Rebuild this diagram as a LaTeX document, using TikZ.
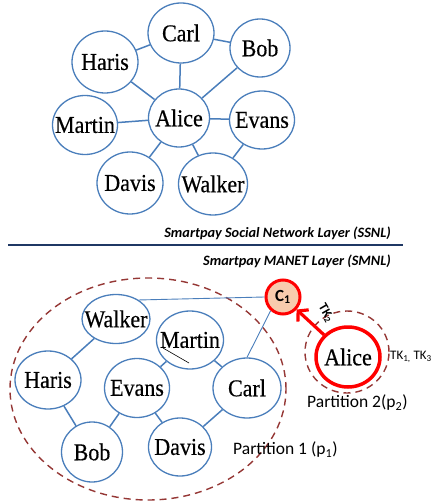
\documentclass[tikz,border=0pt]{standalone}
\usepackage{fontspec}
\setmainfont{Liberation Serif}
\newfontfamily\namefont[FakeBold=0.4]{Liberation Serif}
\newfontfamily\calib{Carlito}
\usetikzlibrary{shapes.geometric,arrows.meta}
\definecolor{nodeblue}{RGB}{74,126,187}
\definecolor{layerline}{RGB}{31,56,100}
\definecolor{partred}{RGB}{149,55,53}
\definecolor{peach}{RGB}{248,203,173}
\begin{document}
\begin{tikzpicture}[x=1pt,y=-1pt,
  person/.style 2 args={ellipse, draw=nodeblue, line width=1.3pt, inner sep=0pt,
    fill=white, minimum width=#1, minimum height=#2},
  who/.style={font=\namefont\fontsize{22}{22}\selectfont, inner sep=0pt, yscale=1.1},
  link/.style={draw=nodeblue, line width=1.5pt},
  thinlink/.style={draw=nodeblue, line width=0.9pt},
  partition/.style 2 args={ellipse, draw=partred, line width=1.4pt,
    dash pattern=on 7pt off 5pt, minimum width=#1, minimum height=#2, inner sep=0pt},
  layertitle/.style={font=\calib\bfseries\itshape\fontsize{14.3}{14.3}\selectfont,
    anchor=base east, inner sep=0pt},
  caption/.style={font=\calib\fontsize{17.5}{17.5}\selectfont, inner sep=0pt},
  token/.style={draw=red, line width=3.2pt},
]
\useasboundingbox (0,0) rectangle (432,502);

% ---------- social network layer ----------
\node[person={66pt}{60pt}, label={[who]center:Carl}]   (carlT)   at (181,33)  {};
\node[person={60pt}{58pt}, label={[who]center:Bob}]    (bobT)    at (260,48)  {};
\node[person={66pt}{62pt}, label={[who]center:Haris}]  (harisT)  at (105,62)  {};
\node[person={65pt}{59pt}, label={[who]center:Martin}] (martinT) at (85,125)  {};
\node[person={61pt}{58pt}, label={[who]center:Alice}]  (aliceT)  at (179,118) {};
\node[person={65pt}{58pt}, label={[who]center:Evans}]  (evansT)  at (262,120) {};
\node[person={66pt}{62pt}, label={[who]center:Davis}]  (davisT)  at (130,183) {};
\node[person={69pt}{62pt}, label={[who]center:Walker}] (walkerT) at (213,184) {};

\draw[link] (harisT) -- (carlT);
\draw[link] (carlT) -- (bobT);
\draw[link] (carlT) -- (aliceT);
\draw[link] (bobT) -- (aliceT);
\draw[link] (harisT) -- (aliceT);
\draw[link] (martinT) -- (aliceT);
\draw[link] (aliceT) -- (evansT);
\draw[link] (aliceT) -- (davisT);
\draw[link] (aliceT) -- (walkerT);
\draw[link] (evansT) -- (walkerT);

\node[layertitle] (ssnl) at (391,237) {Smartpay Social Network Layer (SSNL)};
\coordinate (sepL) at (8,245);
\coordinate (sepR) at (403,245);
\draw[layerline, line width=2pt] (sepL) -- (sepR);
\node[layertitle] (smnl) at (391,265) {Smartpay MANET Layer (SMNL)};

% ---------- MANET layer ----------
\node[partition={276pt}{222pt}] (p1) at (148,389) {};
\node[partition={84pt}{82pt}]   (p2) at (347,352) {};

\node[person={68pt}{49pt}, label={[who]center:Walker}] (walkerB) at (116,319) {};
\node[person={67pt}{58pt}, label={[who]center:Martin}] (martinB) at (190,340) {};
\node[person={66pt}{58pt}, label={[who]center:Haris}]  (harisB)  at (48,380)  {};
\node[person={65pt}{59pt}, label={[who]center:Evans}]  (evansB)  at (137,388) {};
\node[person={68pt}{60pt}, label={[who]center:Carl}]   (carlB)   at (247,388) {};
\node[person={61pt}{60pt}, label={[who]center:Bob}]    (bobB)    at (92,452)  {};
\node[person={63pt}{58pt}, label={[who]center:Davis}]  (davisB)  at (180,447) {};

\coordinate (m1) at (163,348);
\coordinate (m2) at (189,363);
\draw[black, line width=0.6pt] (m1) -- (m2);

\draw[link] (walkerB) -- (harisB);
\draw[link] (harisB) -- (bobB);
\draw[link] (bobB) -- (evansB);
\draw[link] (evansB) -- (martinB);
\draw[link] (martinB) -- (carlB);
\draw[link] (evansB) -- (davisB);
\draw[link] (davisB) -- (carlB);

\node[circle, draw=red, line width=3pt, fill=peach, minimum size=34pt, inner sep=0pt,
  font=\calib\bfseries\fontsize{17}{17}\selectfont] (c1) at (283,297) {C\textsubscript{1}};
\draw[thinlink] (walkerB.40) -- (c1.180);
\draw[thinlink] (carlB.north) -- (c1.228);

\node[ellipse, draw=red, line width=3.5pt, minimum width=64pt, minimum height=60pt,
  inner sep=0pt, label={[who]center:Alice}] (aliceB) at (348,357) {};
\draw[token, -{Straight Barb[length=7pt,width=16pt]}] (aliceB) -- (c1);
\node[font=\calib\bfseries\fontsize{13}{13}\selectfont, rotate=-60, inner sep=0pt]
  (tk2) at (326,313) {TK\textsubscript{2}};
\node[font=\calib\fontsize{13}{13}\selectfont, anchor=west, inner sep=0pt]
  (tk13) at (390,357) {TK\textsubscript{1,} TK\textsubscript{3}};

\node[caption, anchor=west] (cap2) at (307,403) {Partition 2(p\textsubscript{2})};
\node[caption, anchor=west] (cap1) at (233,450) {Partition 1 (p\textsubscript{1})};
\end{tikzpicture}
\end{document}
